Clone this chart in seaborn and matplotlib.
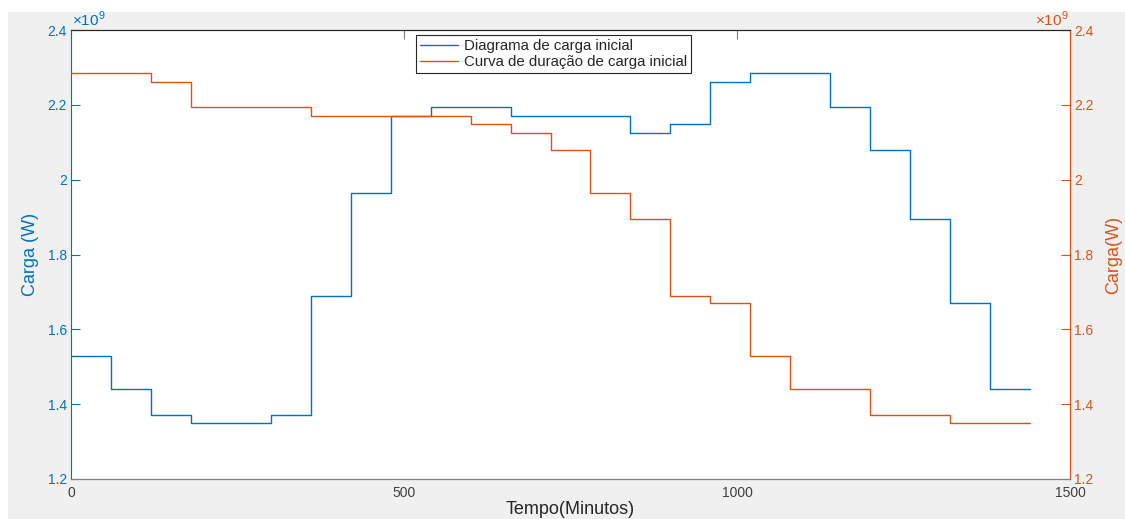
import numpy as np
import pandas as pd
import seaborn as sns
import matplotlib
matplotlib.use("Agg")
import matplotlib.pyplot as plt
from matplotlib.patches import Rectangle
from matplotlib.ticker import FuncFormatter, MultipleLocator

# Hourly load (W) over one day, sampled every 60 minutes
minutes = [0, 60, 120, 180, 240, 300, 360, 420, 480, 540, 600, 660,
           720, 780, 840, 900, 960, 1020, 1080, 1140, 1200, 1260, 1320, 1380]
carga_inicial = [1.53e9, 1.44e9, 1.37e9, 1.35e9, 1.35e9, 1.37e9, 1.69e9, 1.965e9,
                 2.17e9, 2.195e9, 2.195e9, 2.17e9, 2.17e9, 2.17e9, 2.125e9, 2.15e9,
                 2.26e9, 2.285e9, 2.285e9, 2.195e9, 2.08e9, 1.895e9, 1.67e9, 1.44e9]
# Load duration curve: the same loads ordered from highest to lowest
duracao_inicial = [2.285e9, 2.285e9, 2.26e9, 2.195e9, 2.195e9, 2.195e9, 2.17e9, 2.17e9,
                   2.17e9, 2.17e9, 2.15e9, 2.125e9, 2.08e9, 1.965e9, 1.895e9, 1.69e9,
                   1.67e9, 1.53e9, 1.44e9, 1.44e9, 1.37e9, 1.37e9, 1.35e9, 1.35e9]
end_minute = 1440

labels = ["Diagrama de carga inicial", "Curva de duração de carga inicial"]
blue = "#0072BD"
orange = "#D95319"
scale = 1e9

# close the last step at the end of the day
x_steps = minutes + [end_minute]
df = pd.DataFrame({
    "t": x_steps,
    "carga": carga_inicial + [carga_inicial[-1]],
    "duracao": duracao_inicial + [duracao_inicial[-1]],
})

sns.set_style("white")
plt.rcParams["font.family"] = ["Liberation Sans", "DejaVu Sans"]
plt.rcParams["mathtext.fontset"] = "custom"
plt.rcParams["mathtext.rm"] = "Liberation Sans"

fig = plt.figure(figsize=(11.25, 5.19), dpi=100)
fig.patch.set_facecolor("white")
fig.patches.append(Rectangle((8 / 1125, 0), 1, 1 - 12 / 519, transform=fig.transFigure,
                             facecolor="#f0f0f0", edgecolor="none", zorder=-10))

ax = fig.add_axes([71 / 1125, 1 - 479 / 519, (1070 - 71) / 1125, (479 - 30) / 519])
ax.set_facecolor("white")
ax2 = ax.twinx()

sns.lineplot(data=df, x="t", y="carga", ax=ax, color=blue, linewidth=1.0,
             drawstyle="steps-post", label=labels[0], legend=False)
sns.lineplot(data=df, x="t", y="duracao", ax=ax2, color=orange, linewidth=1.0,
             drawstyle="steps-post", label=labels[1], legend=False)

fmt = FuncFormatter(lambda v, p: f"{v / scale:g}")
for a in (ax, ax2):
    a.set_ylim(1.2e9, 2.4e9)
    a.yaxis.set_major_locator(MultipleLocator(0.2e9))
    a.yaxis.set_major_formatter(fmt)
ax.set_xlim(0, 1500)
ax.xaxis.set_major_locator(MultipleLocator(500))

# exponent markers above each y axis
ax.text(0.001, 1.002, r"$\times10^{9}$", transform=ax.transAxes, ha="left", va="bottom",
        fontsize=11, color=blue)
ax2.text(0.999, 1.002, r"$\times10^{9}$", transform=ax2.transAxes, ha="right", va="bottom",
         fontsize=11, color=orange)

# spines
for s in list(ax.spines.values()) + list(ax2.spines.values()):
    s.set_linewidth(0.8)
ax.spines["left"].set_color(blue)
ax.spines["bottom"].set_color("#808080")
ax.spines["top"].set_color("#262626")
ax2.spines["right"].set_color(orange)
ax2.spines["left"].set_visible(False)
ax2.spines["top"].set_color("#262626")
ax2.spines["bottom"].set_color("#808080")

ax.tick_params(axis="x", direction="in", length=6.5, width=0.8, colors="#808080",
               labelcolor="#404040", labelsize=10, top=True, pad=5)
ax.tick_params(axis="y", direction="in", length=6.5, width=0.8, colors=blue,
               labelsize=10, left=True, right=False, pad=3)
ax2.tick_params(axis="y", direction="in", length=6.5, width=0.8, colors=orange,
                labelsize=10, right=True, left=False, pad=3)

ax.set_xlabel("Tempo(Minutos)", fontsize=13, color="#262626", labelpad=0.5)
ax.set_ylabel("Carga (W)", fontsize=13, color=blue, labelpad=6)
ax2.set_ylabel("Carga(W)", fontsize=13, color=orange, labelpad=8)

h1, l1 = ax.get_legend_handles_labels()
h2, l2 = ax2.get_legend_handles_labels()
leg = ax2.legend(h1 + h2, l1 + l2, loc="upper center", bbox_to_anchor=(0.483, 0.995),
                 fontsize=10.8, frameon=True, fancybox=False, framealpha=1,
                 edgecolor="#262626", handlelength=2.5, borderpad=0.25,
                 labelspacing=0.15, handletextpad=0.4, borderaxespad=0.2)
leg.get_frame().set_linewidth(0.8)

fig.savefig("out.png", dpi=100)
